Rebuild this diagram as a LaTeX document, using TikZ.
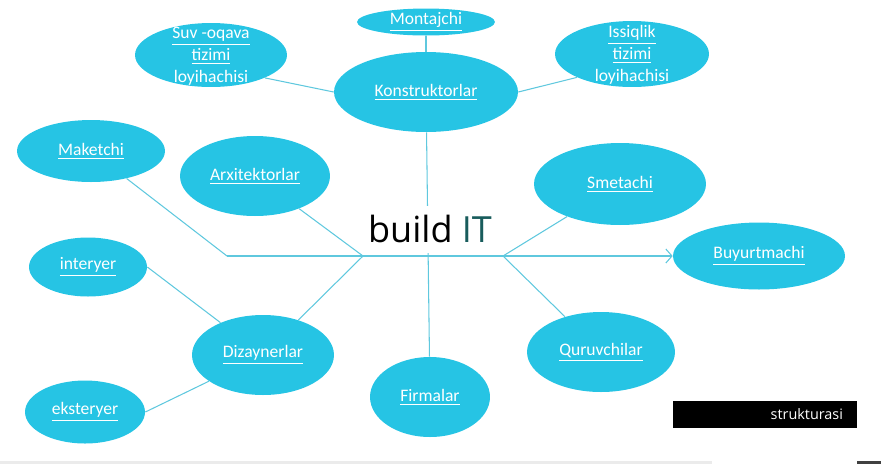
\documentclass[tikz,border=0pt]{standalone}
\usepackage{fontspec}
\setmainfont{Carlito}
\newfontfamily\titlefont{Open Sans}
\usetikzlibrary{shapes.geometric,arrows.meta}
\definecolor{bubblecyan}{RGB}{38,196,228}
\definecolor{linkcyan}{RGB}{95,200,222}
\definecolor{itteal}{RGB}{24,92,92}

\begin{document}
\begin{tikzpicture}[x=0.02cm, y=-0.02cm,
  bubble/.style={ellipse, fill=bubblecyan, inner sep=0pt, text=white, font=\fontsize{10}{12}\selectfont},
  bubbletext/.style={text=white, align=center, inner sep=0pt, font=\fontsize{10}{12.5}\selectfont},
  link/.style={draw=linkcyan, line width=0.6pt},
  title/.style={fill=white, inner xsep=2pt, inner ysep=0pt, minimum height=0.94cm, font=\titlefont\fontsize{20.5}{24}\selectfont}]
\useasboundingbox (0,0) rectangle (881,464);

% Konstruktorlar group
\node[bubble, minimum width=2.76cm, minimum height=0.54cm] (montajchi) at (426,22) {\underline{Montajchi}};
\node[bubble, minimum width=3.04cm, minimum height=1.28cm] (suv) at (211,55) {};
\node[bubbletext] (suvtext) at (211,58) {\underline{Suv -oqava}\\\underline{tizimi}\\\underline{loyihachisi}};
\node[bubble, minimum width=3.68cm, minimum height=1.6cm] (konst) at (426,92) {\underline{Konstruktorlar}};
\node[bubble, minimum width=3.08cm, minimum height=1.32cm] (issiq) at (632,54) {};
\node[bubbletext] (issiqtext) at (632,57) {\underline{Issiqlik}\\\underline{tizimi}\\\underline{loyihachisi}};

% left side
\node[bubble, minimum width=2.96cm, minimum height=1.24cm] (maketchi) at (91,151) {\underline{Maketchi}};
\node[bubble, minimum width=3.0cm, minimum height=1.6cm] (arx) at (255,176) {\underline{Arxitektorlar}};
\node[bubble, minimum width=2.36cm, minimum height=1.18cm] (interyer) at (88,267) {\underline{interyer}};
\node[bubble, minimum width=2.84cm, minimum height=1.6cm] (diz) at (263,355) {\underline{Dizaynerlar}};
\node[bubble, minimum width=2.4cm, minimum height=1.26cm] (eksteryer) at (85,412) {\underline{eksteryer}};

% right side and bottom
\node[bubble, minimum width=3.44cm, minimum height=1.64cm] (smetachi) at (620,184) {\underline{Smetachi}};
\node[bubble, minimum width=3.44cm, minimum height=1.34cm] (buyurt) at (759,256) {\underline{Buyurtmachi}};
\node[bubble, minimum width=2.96cm, minimum height=1.6cm] (quruv) at (601,352) {\underline{Quruvchilar}};
\node[bubble, minimum width=2.4cm, minimum height=1.6cm] (firmalar) at (430,397) {\underline{Firmalar}};

\coordinate (jl) at (227,256);
\coordinate (hl) at (363,256);
\coordinate (hr) at (503,256);

\draw[link] (montajchi) -- (konst);
\draw[link] (suv.-23) -- (konst.west);
\draw[link] (issiq.-157) -- (konst.east);
\draw[link] (konst) -- (firmalar);
\draw[link] (maketchi) -- (jl);
\draw[link, -{Straight Barb[length=3.5pt, width=8pt]}] (jl) -- (buyurt.west);
\draw[link] (arx) -- (hl) -- (diz);
\draw[link] (interyer.east) -- (diz);
\draw[link] (eksteryer.east) -- (diz);
\draw[link] (smetachi) -- (hr) -- (quruv);

\node[title] (buildit) at (430,229) {build \textcolor{itteal}{IT}};

\node[fill=black, text=white, minimum width=3.68cm, minimum height=0.54cm, inner xsep=0.28cm, text width=3.12cm, align=right, font=\titlefont\fontsize{8.2}{9}\selectfont] (struk) at (765,414.5) {strukturasi};

\fill[black!8] (0,461) rectangle (712,464);
\fill[black!75] (857,461) rectangle (881,464);
\end{tikzpicture}
\end{document}
